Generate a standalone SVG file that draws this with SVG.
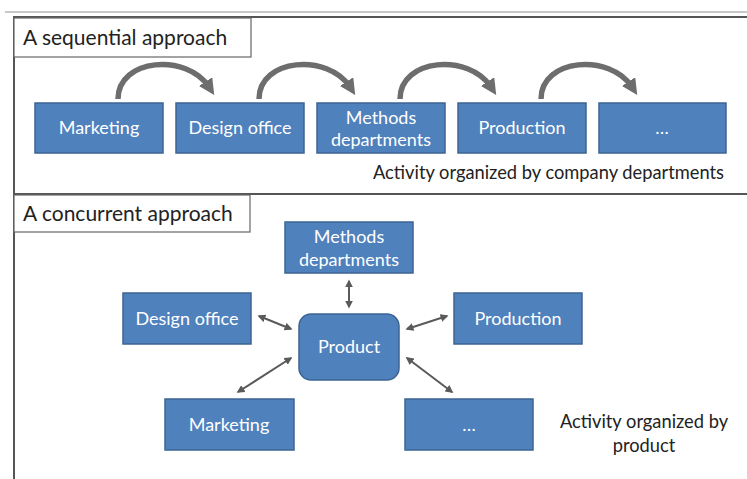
<svg xmlns="http://www.w3.org/2000/svg" width="747" height="479" viewBox="0 0 747 479">
<defs>
<style>
.box{fill:#4f81bd;stroke:#3b6493;stroke-width:1.5}
.lbl{fill:#ffffff;font-family:Lato,"Liberation Sans",sans-serif;font-size:18px;text-anchor:middle}
.cap{fill:#222222;font-family:Lato,"Liberation Sans",sans-serif;font-size:18.3px}
.ttl{fill:#222222;font-family:Lato,"Liberation Sans",sans-serif;font-size:21px}
.frame{fill:none;stroke:#555555;stroke-width:2}
.tbox{fill:#ffffff;stroke:#666666;stroke-width:1.2}
.seq{fill:none;stroke:#6d6d6d;stroke-width:5.5;marker-end:url(#big)}
.dbl{fill:none;stroke:#5a5a5a;stroke-width:2;marker-start:url(#sm);marker-end:url(#sm)}
</style>
<marker id="big" viewBox="0 0 10 10" refX="4" refY="5" markerWidth="16" markerHeight="16" markerUnits="userSpaceOnUse" orient="auto">
<path d="M0,0 L10,5 L0,10 z" fill="#6d6d6d"/>
</marker>
<marker id="sm" viewBox="0 0 10 10" refX="8" refY="5" markerWidth="8" markerHeight="8" markerUnits="userSpaceOnUse" orient="auto-start-reverse">
<path d="M0,0 L10,5 L0,10 z" fill="#5a5a5a"/>
</marker>
</defs>
<rect width="747" height="479" fill="#ffffff"/>
<line x1="5" y1="12" x2="747" y2="12" stroke="#c8c8c8" stroke-width="2"/>
<g id="frame">
<polyline class="frame" points="14,479 14,17 747,17"/>
<line class="frame" x1="14" y1="194" x2="747" y2="194"/>
</g>
<g id="title-sequential">
<rect class="tbox" x="14" y="18" width="237" height="39"/>
<text class="ttl" x="23" y="45">A sequential approach</text>
</g>
<g id="title-concurrent">
<rect class="tbox" x="14" y="195" width="236" height="37"/>
<text class="ttl" x="23" y="221">A concurrent approach</text>
</g>
<g id="connectors">
<path class="seq" d="M118,99 C118,58 187,53 209,87"/>
<path class="seq" d="M259,99 C259,58 328,53 350,87"/>
<path class="seq" d="M400,99 C400,58 469,53 491,87"/>
<path class="seq" d="M541,99 C541,58 610,53 632,87"/>
<path class="dbl" d="M349,281 L349,307"/>
<path class="dbl" d="M259,316 L291,329"/>
<path class="dbl" d="M447,316 L407,329"/>
<path class="dbl" d="M238,392 L291,358"/>
<path class="dbl" d="M407,358 L452,392"/>
</g>
<g id="seq-marketing">
<rect class="box" x="35" y="103" width="128" height="50"/>
<text class="lbl" x="99" y="134">Marketing</text>
</g>
<g id="seq-design">
<rect class="box" x="176" y="103" width="128" height="50"/>
<text class="lbl" x="240" y="134">Design office</text>
</g>
<g id="seq-methods">
<rect class="box" x="317" y="103" width="128" height="50"/>
<text class="lbl" x="381" y="124">Methods</text>
<text class="lbl" x="381" y="146">departments</text>
</g>
<g id="seq-production">
<rect class="box" x="458" y="103" width="128" height="50"/>
<text class="lbl" x="522" y="134">Production</text>
</g>
<g id="seq-more">
<rect class="box" x="599" y="103" width="127" height="50"/>
<text class="lbl" x="662" y="134">…</text>
</g>
<text class="cap" x="724" y="179" text-anchor="end">Activity organized by company departments</text>
<g id="con-methods">
<rect class="box" x="285" y="222" width="128" height="51"/>
<text class="lbl" x="349" y="243">Methods</text>
<text class="lbl" x="349" y="266">departments</text>
</g>
<g id="con-design">
<rect class="box" x="123" y="293" width="128" height="51"/>
<text class="lbl" x="187" y="325">Design office</text>
</g>
<g id="con-production">
<rect class="box" x="454" y="293" width="128" height="51"/>
<text class="lbl" x="518" y="325">Production</text>
</g>
<g id="con-product">
<rect class="box" x="299" y="314" width="100" height="66" rx="12" ry="12"/>
<text class="lbl" x="349" y="353">Product</text>
</g>
<g id="con-marketing">
<rect class="box" x="165" y="399" width="129" height="51"/>
<text class="lbl" x="229" y="431">Marketing</text>
</g>
<g id="con-more">
<rect class="box" x="405" y="399" width="128" height="51"/>
<text class="lbl" x="469" y="431">…</text>
</g>
<g id="caption-product">
<text class="cap" x="644" y="428" text-anchor="middle">Activity organized by</text>
<text class="cap" x="644" y="452" text-anchor="middle">product</text>
</g>
</svg>
